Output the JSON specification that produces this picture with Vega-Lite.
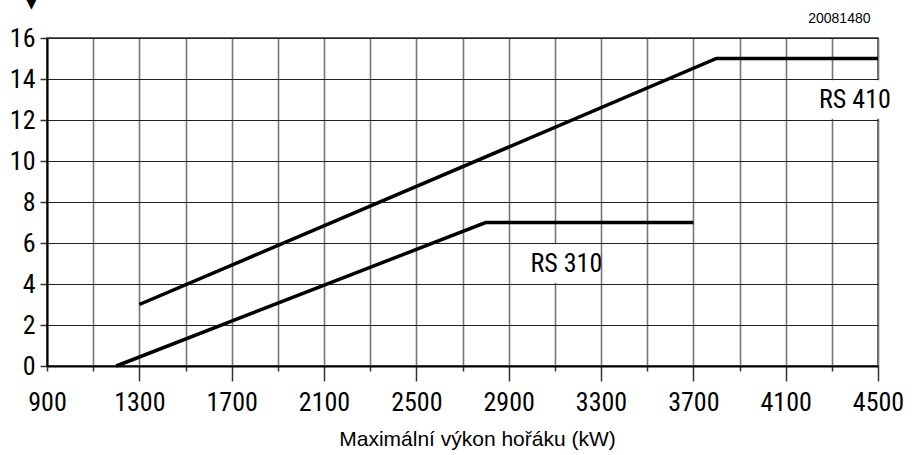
{
  "$schema": "https://vega.github.io/schema/vega-lite/v6.json",
  "autosize": "none",
  "width": 831,
  "height": 328,
  "padding": {"left": 47, "top": 38, "right": 38, "bottom": 89},
  "background": "white",
  "title": {"text": "▼", "anchor": "start", "frame": "group", "orient": "top", "offset": 3, "baseline": "bottom", "fontSize": 14, "font": "DejaVu Sans", "fontWeight": "normal", "dx": -21, "dy": 17, "color": "black"},
  "config": {
    "view": {"stroke": "#333", "strokeWidth": 1.5},
    "axis": {"labelColor": "black", "titleColor": "black", "domainColor": "black", "tickColor": "black"}
  },
  "datasets": {
    "lines": [
      {"series": "RS 410", "power": 1300, "value": 3},
      {"series": "RS 410", "power": 3800, "value": 15},
      {"series": "RS 410", "power": 4500, "value": 15},
      {"series": "RS 310", "power": 1200, "value": 0},
      {"series": "RS 310", "power": 2800, "value": 7},
      {"series": "RS 310", "power": 3700, "value": 7}
    ],
    "labels": [
      {"label": "RS 410", "power": 4400, "value": 13, "x0": 4204, "x1": 4535, "y0": 12.06, "y1": 13.94},
      {"label": "RS 310", "power": 3150, "value": 5, "x0": 3004, "x1": 3296, "y0": 4.06, "y1": 5.94}
    ]
  },
  "layer": [
    {
      "data": {"name": "labels"},
      "mark": {"type": "rect", "fill": "white", "stroke": null},
      "encoding": {
        "x": {"field": "x0", "type": "quantitative", "scale": {"domain": [900, 4500], "nice": false, "zero": false},
          "axis": {
            "values": [900,1000,1100,1200,1300,1400,1500,1600,1700,1800,1900,2000,2100,2200,2300,2400,2500,2600,2700,2800,2900,3000,3100,3200,3300,3400,3500,3600,3700,3800,3900,4000,4100,4200,4300,4400,4500],
            "format": "d",
            "labelExpr": "datum.value % 400 == 100 ? datum.label : ''",
            "grid": true, "gridColor": "#777", "gridWidth": 1.6, "gridOpacity": 1,
            "domain": true, "domainColor": "black", "domainWidth": 2,
            "tickSize": {"condition": [{"test": "datum.value % 400 == 100 && datum.value > 900", "value": 15}, {"test": "datum.value % 200 == 100", "value": 5}], "value": 0},
            "labelPadding": {"condition": {"test": "datum.value == 900", "value": 18}, "value": 8},
            "tickColor": "#333", "tickWidth": 1.5,
            "labelFont": "Roboto Condensed, DejaVu Sans Condensed, Roboto, sans-serif", "labelFontSize": 26, "labelBaseline": "top", "labelOverlap": false, "labelFlush": false,
            "title": "Maximální výkon hořáku (kW)", "titleFont": "Liberation Sans", "titleFontSize": 21, "titleFontWeight": "normal",
            "titleX": 430, "titleY": 79, "titleBaseline": "alphabetic", "titleAlign": "center"
          }},
        "x2": {"field": "x1"},
        "y": {"field": "y0", "type": "quantitative", "scale": {"domain": [0, 16], "nice": false, "zero": false},
          "axis": {
            "values": [0,1,2,3,4,5,6,7,8,9,10,11,12,13,14,15,16],
            "labelExpr": "datum.value % 2 == 0 ? datum.label : ''",
            "grid": true, "gridColor": "#222", "gridWidth": 1.2, "gridOpacity": 1,
            "domain": true, "domainColor": "black", "domainWidth": 2,
            "tickSize": {"condition": {"test": "datum.value % 2 == 0", "value": 7}, "value": 0},
            "tickColor": "#333", "tickWidth": 1.5,
            "labelFont": "Roboto Condensed, DejaVu Sans Condensed, Roboto, sans-serif", "labelFontSize": 26, "labelPadding": 5, "labelOverlap": false, "labelFlush": false,
            "title": "20081480", "titleAngle": 0, "titleFont": "Liberation Sans", "titleFontSize": 14, "titleFontWeight": "normal",
            "titleX": 823, "titleY": -16, "titleAlign": "right", "titleBaseline": "alphabetic"
          }},
        "y2": {"field": "y1"}
      }
    },
    {
      "data": {"name": "lines"},
      "mark": {"type": "line", "color": "black", "strokeWidth": 3.5},
      "encoding": {
        "x": {"field": "power", "type": "quantitative"},
        "y": {"field": "value", "type": "quantitative"},
        "detail": {"field": "series"}
      }
    },
    {
      "data": {"name": "labels"},
      "mark": {"type": "text", "font": "Roboto Condensed, DejaVu Sans Condensed, Roboto, sans-serif", "fontSize": 26, "color": "black", "align": "center", "baseline": "middle"},
      "encoding": {
        "x": {"field": "power", "type": "quantitative"},
        "y": {"field": "value", "type": "quantitative"},
        "text": {"field": "label"}
      }
    }
  ]
}
